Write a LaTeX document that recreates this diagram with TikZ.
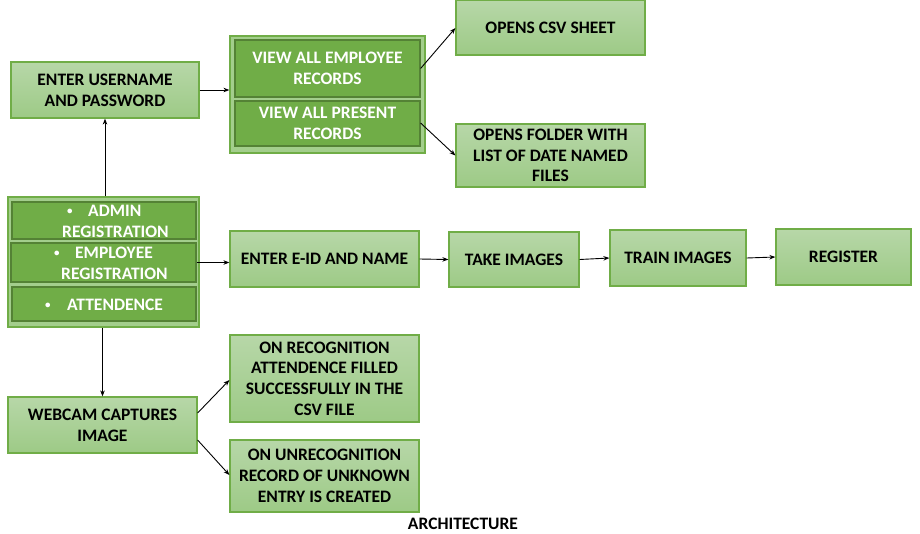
\documentclass[tikz,border=0pt]{standalone}
\usepackage{fontspec}
\setmainfont{Carlito}
\usetikzlibrary{arrows.meta,shadings}
\definecolor{gborder}{RGB}{112,173,71}
\definecolor{gtop}{RGB}{183,215,168}
\definecolor{gbot}{RGB}{157,202,134}
\definecolor{gdark}{RGB}{112,173,71}
\definecolor{gdarkb}{RGB}{84,130,53}
\definecolor{ggroup}{RGB}{163,206,140}
\newcommand{\smbul}{\raisebox{2pt}{\fontsize{11}{11}\selectfont\textbullet}}
\tikzset{
  lbox/.style={draw=gborder, line width=1.2pt, top color=gtop, bottom color=gbot,
    font=\fontsize{17.5}{20.7}\selectfont\bfseries, align=center, inner sep=0pt, text=black},
  gbox/.style={draw=gborder, line width=1.2pt, fill=ggroup, inner sep=0pt},
  dbox/.style={draw=gdarkb, line width=1.2pt, fill=gdark, inner sep=0pt,
    font=\fontsize{17.5}{20.7}\selectfont\bfseries, align=center, text=white},
  wtxt/.style={font=\fontsize{17.5}{20.7}\selectfont\bfseries, text=white, inner sep=0pt, anchor=base west},
  arr/.style={-{Stealth[length=6pt,width=4.5pt]}, line width=0.9pt, black},
}
\begin{document}
\begin{tikzpicture}[x=1pt,y=-1pt]
\useasboundingbox (0,0) rectangle (920,533);
% top-left
\node[lbox, minimum width=188, minimum height=56] (user) at (105,90) {ENTER USERNAME\\AND PASSWORD};
% middle group
\node[gbox, minimum width=195, minimum height=117] (midg) at (327.5,94.5) {};
\node[dbox, minimum width=185, minimum height=57] (viewemp) at (327.5,68.5) {VIEW ALL EMPLOYEE\\RECORDS};
\node[dbox, minimum width=185, minimum height=45] (viewpres) at (327.5,123.5) {VIEW ALL PRESENT\\RECORDS};
% right top
\node[lbox, minimum width=189, minimum height=55] (csv) at (550.5,27.5) {OPENS CSV SHEET};
\node[lbox, minimum width=189, minimum height=63] (folder) at (550.5,155.5) {OPENS FOLDER WITH\\LIST OF DATE NAMED\\FILES};
% left group
\node[gbox, minimum width=191, minimum height=130] (leftg) at (103.5,262) {};
\node[dbox, minimum width=184, minimum height=37] (admin) at (104,220.5) {};
\node[dbox, minimum width=185, minimum height=39] (emp) at (103.5,262.5) {};
\node[dbox, minimum width=184, minimum height=34] (att) at (104,304) {};
\node[wtxt] (adminb) at (67,216) {\smbul};
\node[wtxt] (admint) at (88,216) {ADMIN};
\node[wtxt] (adminr) at (62,237) {REGISTRATION};
\node[wtxt] (empb) at (54,258) {\smbul};
\node[wtxt] (empt) at (75,258) {EMPLOYEE};
\node[wtxt] (empr) at (61,279) {REGISTRATION};
\node[wtxt] (attb) at (45,310) {\smbul};
\node[wtxt] (attt) at (67,310) {ATTENDENCE};
% registration row
\node[lbox, minimum width=189, minimum height=56] (eid) at (324.5,259) {ENTER E-ID AND NAME};
\node[lbox, minimum width=130, minimum height=55] (take) at (514,259.5) {TAKE IMAGES};
\node[lbox, minimum width=136, minimum height=56] (train) at (678,258) {TRAIN IMAGES};
\node[lbox, minimum width=135, minimum height=56] (reg) at (843.5,257) {REGISTER};
% bottom
\node[lbox, minimum width=189, minimum height=56] (web) at (102.5,425) {WEBCAM CAPTURES\\IMAGE};
\node[lbox, minimum width=189, minimum height=87] (recog) at (324.5,378.5) {ON RECOGNITION\\ATTENDENCE FILLED\\SUCCESSFULLY IN THE\\CSV FILE};
\node[lbox, minimum width=189, minimum height=72] (unrec) at (324.5,476) {ON UNRECOGNITION\\RECORD OF UNKNOWN\\ENTRY IS CREATED};
\node[font=\fontsize{17.5}{20.7}\selectfont\bfseries, inner sep=0pt, anchor=base] (arch) at (463,529.5) {ARCHITECTURE};
% connectors
\draw[arr] (leftg.north -| user.south) -- (user.south);
\draw[arr] (user.east) -- (user.east -| midg.west);
\draw[arr] (viewemp.east) -- ([yshift=-0.5]csv.west);
\draw[arr] ([yshift=0.5]viewpres.east) -- (folder.west);
\draw[arr] (emp.east) -- (emp.east -| eid.west);
\draw[arr] (eid.east) -- (take.west);
\draw[arr] (take.east) -- (train.west);
\draw[arr] (train.east) -- (reg.west);
\draw[arr] (leftg.south -| web.north) -- (web.north);
\draw[arr] ([yshift=12]web.east) -- ([yshift=-1.5]recog.west);
\draw[arr] ([yshift=-15]web.east) -- ([yshift=1]unrec.west);
\end{tikzpicture}
\end{document}
